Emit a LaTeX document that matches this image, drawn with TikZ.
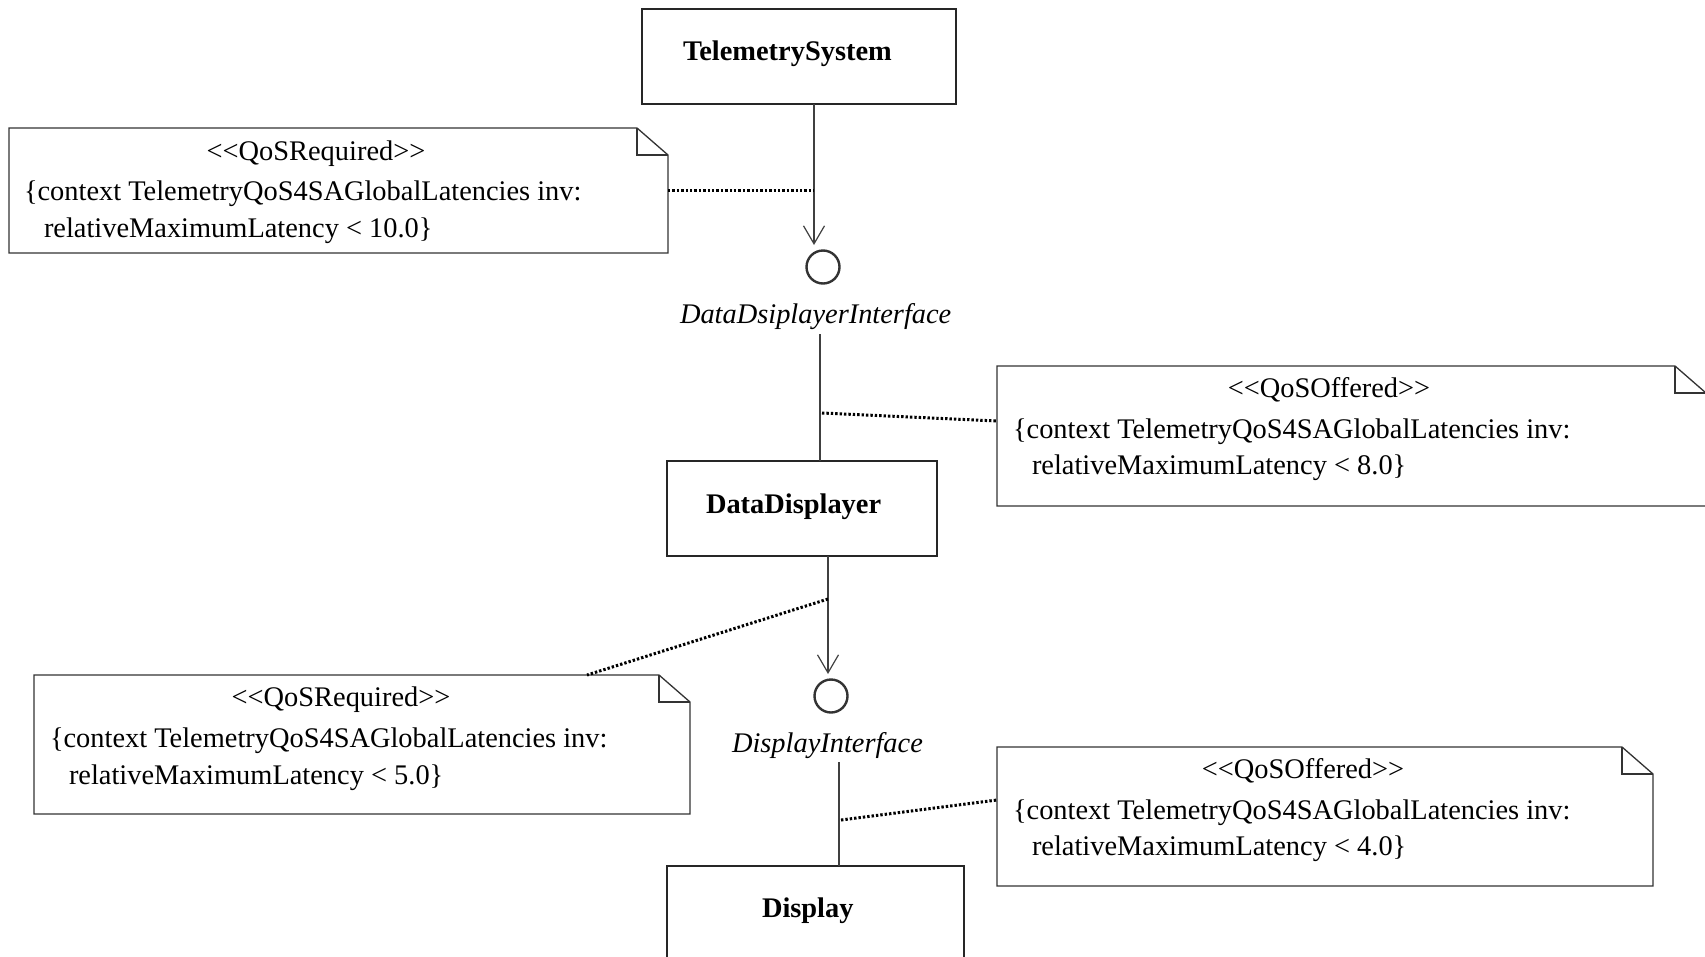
\documentclass[tikz,border=0pt]{standalone}
\usepackage{fontspec}
\setmainfont{Liberation Serif}[Ligatures=TeXOff]
\usetikzlibrary{arrows.meta}

% UML note with a folded corner, drawn around an empty rectangle node
\newcommand\umlnote[1]{%
  \draw[noteline] (#1.north west) -- ([xshift=-31pt]#1.north east)
    -- ([yshift=-27pt]#1.north east) -- (#1.south east)
    -- (#1.south west) -- cycle;
  \draw[noteline] ([xshift=-31pt]#1.north east) |- ([yshift=-27pt]#1.north east);
}

\begin{document}
\begin{tikzpicture}[x=1pt,y=-1pt,
  every node/.style={inner sep=0pt, outer sep=0pt},
  basefont/.style={font=\fontsize{28.4}{34}\selectfont},
  txt/.style={basefont, anchor=base west},
  stereo/.style={basefont, anchor=base},
  classbox/.style={draw=black!85, line width=1.4pt, rectangle},
  classname/.style={font=\fontsize{28.4}{34}\selectfont\bfseries, anchor=base west},
  iface/.style={circle, draw=black!80, line width=2.4pt, minimum size=33pt},
  ifname/.style={font=\fontsize{28.4}{34}\selectfont\itshape, anchor=base west},
  notebox/.style={rectangle, draw=none},
  noteline/.style={draw=black!80, line width=1.3pt},
  conn/.style={draw=black!75, line width=1.2pt},
  uses/.style={conn, -{Straight Barb[length=18pt, width=21pt]}},
  anchorline/.style={line width=3pt, dash pattern=on 2.4pt off 2pt},
]
\useasboundingbox (0,0) rectangle (1705,956);
\fill[white] (0,0) rectangle (1705,956);

% components
\node[classbox, minimum width=314pt, minimum height=95pt] (ts) at (799,56.5) {};
\node[classname] (tsl) at (683,60) {TelemetrySystem};
\node[classbox, minimum width=270pt, minimum height=95pt] (dd) at (802,508.5) {};
\node[classname] (ddl) at (706,513) {DataDisplayer};
\node[classbox, minimum width=297pt, minimum height=120pt] (disp) at (815.5,926) {};
\node[classname] (displ) at (762,917) {Display};

% provided interfaces
\node[iface] (if1) at (823,267) {};
\node[ifname] (if1l) at (680,323) {DataDsiplayerInterface};
\node[iface] (if2) at (831,696) {};
\node[ifname] (if2l) at (732,752) {DisplayInterface};

% dependencies and realizations
\coordinate (tip1) at (814,245);
\draw[uses] (ts.south -| tip1) -- (tip1);
\coordinate (l2) at (820,334);
\draw[conn] (l2) -- (l2 |- dd.north);
\coordinate (tip2) at (828,674);
\draw[uses] (dd.south -| tip2) -- (tip2);
\coordinate (l4) at (839,762);
\draw[conn] (l4) -- (l4 |- disp.north);

% QoS notes
\node[notebox, minimum width=659pt, minimum height=125pt] (rq1) at (338.5,190.5) {};
\umlnote{rq1}
\node[stereo] (rq1s) at (316,160) {<<QoSRequired>>};
\node[txt] (rq1a) at (24,200) {\{context TelemetryQoS4SAGlobalLatencies inv:};
\node[txt] (rq1b) at (44,237) {relativeMaximumLatency < 10.0\}};

\node[notebox, minimum width=709pt, minimum height=140pt] (of1) at (1351.5,436) {};
\umlnote{of1}
\node[stereo] (of1s) at (1329,397) {<<QoSOffered>>};
\node[txt] (of1a) at (1013,438) {\{context TelemetryQoS4SAGlobalLatencies inv:};
\node[txt] (of1b) at (1032,474) {relativeMaximumLatency < 8.0\}};

\node[notebox, minimum width=656pt, minimum height=139pt] (rq2) at (362,744.5) {};
\umlnote{rq2}
\node[stereo] (rq2s) at (341,706) {<<QoSRequired>>};
\node[txt] (rq2a) at (50,747) {\{context TelemetryQoS4SAGlobalLatencies inv:};
\node[txt] (rq2b) at (69,784) {relativeMaximumLatency < 5.0\}};

\node[notebox, minimum width=656pt, minimum height=139pt] (of2) at (1325,816.5) {};
\umlnote{of2}
\node[stereo] (of2s) at (1303,778) {<<QoSOffered>>};
\node[txt] (of2a) at (1013,819) {\{context TelemetryQoS4SAGlobalLatencies inv:};
\node[txt] (of2b) at (1032,855) {relativeMaximumLatency < 4.0\}};

% note attachments
\coordinate (d1) at (814,190);
\draw[anchorline] (d1 -| rq1.east) -- (d1);
\coordinate (d2) at (822,413);
\draw[anchorline] (d2) -- ([yshift=-55pt]of1.north west);
\coordinate (d3) at (828,599);
\draw[anchorline] (d3) -- ([xshift=553pt]rq2.north west);
\coordinate (d4) at (841,820);
\draw[anchorline] (d4) -- ([yshift=-53pt]of2.north west);
\end{tikzpicture}
\end{document}
